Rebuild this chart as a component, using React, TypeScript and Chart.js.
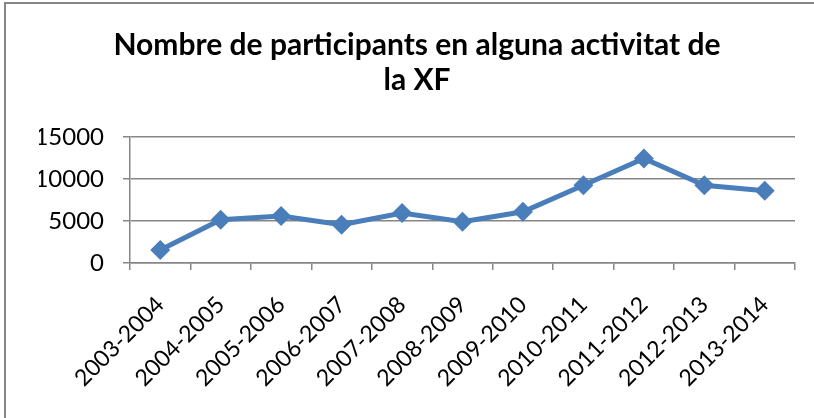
import React, { useEffect, useRef } from "react";
import { Chart, registerables } from "chart.js";

Chart.register(...registerables);

const categories = [
  "2003-2004", "2004-2005", "2005-2006", "2006-2007", "2007-2008", "2008-2009",
  "2009-2010", "2010-2011", "2011-2012", "2012-2013", "2013-2014",
];
const participants = [1550, 5150, 5600, 4550, 5950, 4900, 6100, 9250, 12450, 9250, 8600];
const titleLines = ["Nombre de participants en alguna activitat de", "la XF"];
const yMin = 0;
const yMax = 15000;
const yStep = 5000;

const FONT = "Lato, 'Open Sans', sans-serif";
const GRAY = "#868686";
const BLUE = "#4A7EBB";

const frame = {
  id: "frame",
  beforeDraw(chart: any) {
    const ctx = chart.ctx;
    ctx.save();
    ctx.fillStyle = "#ffffff";
    ctx.fillRect(0, 0, chart.width, chart.height);
    ctx.strokeStyle = GRAY;
    ctx.lineWidth = 2;
    ctx.strokeRect(5, 3, chart.width + 20, chart.height + 20);
    ctx.restore();
  },
};

export default function App() {
  const ref = useRef<HTMLCanvasElement | null>(null);
  useEffect(() => {
    if (!ref.current) return;
    const chart = new Chart(ref.current, {
      type: "line",
      data: {
        labels: categories,
        datasets: [
          {
            data: participants,
            borderColor: BLUE,
            backgroundColor: BLUE,
            borderWidth: 5,
            pointStyle: "rectRot",
            pointRadius: 10,
            pointHoverRadius: 10,
            pointBackgroundColor: BLUE,
            pointBorderWidth: 0,
            tension: 0,
          },
        ],
      },
      options: {
        animation: false,
        responsive: false,
        devicePixelRatio: 1,
        layout: { padding: { left: 39, right: 19, top: 0, bottom: 0 } },
        plugins: {
          legend: { display: false },
          tooltip: { enabled: false },
          title: {
            display: true,
            text: titleLines,
            color: "#000000",
            font: { family: FONT, size: 30, weight: "bold", lineHeight: 35 / 30 },
            padding: { top: 28, bottom: 39 },
          },
        },
        scales: {
          x: {
            offset: true,
            grid: {
              offset: true,
              drawOnChartArea: false,
              drawTicks: true,
              tickLength: 7,
              color: GRAY,
              lineWidth: 1.5,
            },
            border: { display: true, color: GRAY, width: 1.5 },
            ticks: {
              color: "#000000",
              font: { family: FONT, size: 23 },
              maxRotation: 45,
              minRotation: 45,
              autoSkip: false,
              padding: 21,
            },
            afterFit(scale: any) {
              scale.height = 155;
            },
          },
          y: {
            min: yMin,
            max: yMax,
            grid: {
              drawOnChartArea: true,
              drawTicks: true,
              tickLength: 7,
              color: GRAY,
              lineWidth: 1.5,
            },
            border: { display: true, color: GRAY, width: 1.5 },
            ticks: {
              stepSize: yStep,
              color: "#000000",
              font: { family: FONT, size: 24 },
              padding: 19,
              callback: (v: any) => String(v),
            },
            afterFit(scale: any) {
              scale.width = 91;
            },
          },
        },
      },
      plugins: [frame],
    });
    return () => chart.destroy();
  }, []);
  return (
    <div style={{ position: "absolute", left: 0, top: 0, width: 814, height: 418 }}>
      <canvas ref={ref} width={814} height={418} style={{ display: "block" }} />
    </div>
  );
}
